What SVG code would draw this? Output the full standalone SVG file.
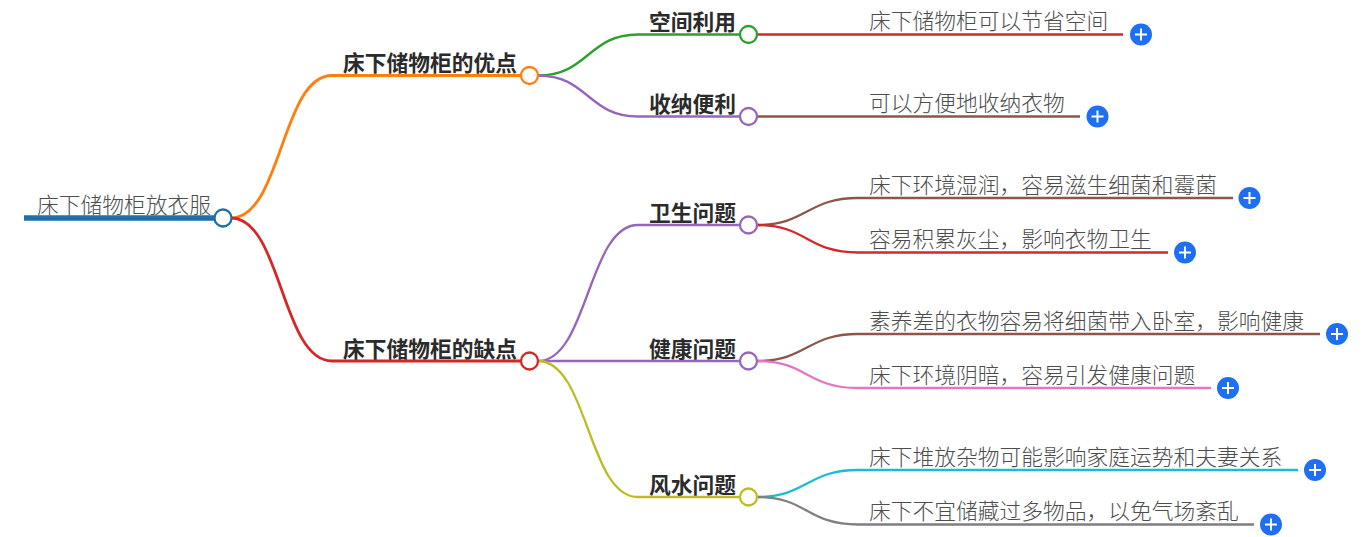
<svg xmlns="http://www.w3.org/2000/svg" width="1365" height="537" viewBox="0 0 1365 537">
<style>
text{font-family:"Noto Sans CJK SC","Noto Sans",sans-serif;font-size:21.75px}
.l{fill:#4d4d4d;font-weight:300}
.b{fill:#2b2b2b;font-weight:700}
#connectors path{fill:none;stroke-width:2.3}
#connectors path.m{stroke-width:2.8}
#connectors path.r{stroke-width:5.5}
.c{fill:#fff;stroke-width:2.3}
.p{fill:#1f6ff2}
.x{stroke:#fff;stroke-width:2;fill:none}
</style>
<rect width="1365" height="537" fill="#fff"/>
<g id="connectors">
<path class="r" d="M24 218H215" stroke="#1f6fa8"/>
<path class="m" d="M231 218C281.500 218 281.500 75.500 332 75.500H521" stroke="#ff7f0e"/>
<path class="m" d="M231 218C281.500 218 281.500 361 332 361H521" stroke="#d62728"/>
<path d="M538 75.500C588 75.500 588 34.500 638 34.500H740" stroke="#2ca02c"/>
<path d="M538 75.500C588 75.500 588 116.500 638 116.500H740" stroke="#9467bd"/>
<path d="M538 361C588 361 588 225 638 225H740" stroke="#9467bd"/>
<path d="M538 361H740" stroke="#9467bd"/>
<path d="M538 361C588 361 588 497 638 497H740" stroke="#bcbd22"/>
<path d="M757 34.500H1123" stroke="#d62728"/>
<path d="M757 116.500H1080" stroke="#8c564b"/>
<path d="M757 225C807 225 807 198 858 198H1233" stroke="#8c564b"/>
<path d="M757 225C807 225 807 252.500 858 252.500H1168" stroke="#d62728"/>
<path d="M757 361C807 361 807 334 858 334H1320" stroke="#8c564b"/>
<path d="M757 361C807 361 807 388 858 388H1211" stroke="#e377c2"/>
<path d="M757 497C807 497 807 470 858 470H1298" stroke="#17becf"/>
<path d="M757 497C807 497 807 524.500 858 524.500H1254" stroke="#7f7f7f"/>
</g>
<g id="root"><text class="l" x="37" y="213">床下储物柜放衣服</text><circle class="c" cx="223" cy="218" r="8.500" stroke="#1f6fa8"/></g>
<g id="n1"><text class="b" x="343" y="70.500">床下储物柜的优点</text><circle class="c" cx="529.500" cy="75.500" r="8.500" stroke="#ff7f0e"/></g>
<g id="n2"><text class="b" x="343" y="356.500">床下储物柜的缺点</text><circle class="c" cx="529.500" cy="361" r="8.500" stroke="#d62728"/></g>
<g id="n11"><text class="b" x="649" y="29.500">空间利用</text><circle class="c" cx="748.500" cy="34.500" r="8.500" stroke="#2ca02c"/></g>
<g id="n12"><text class="b" x="649" y="111.500">收纳便利</text><circle class="c" cx="748.500" cy="116.500" r="8.500" stroke="#9467bd"/></g>
<g id="n21"><text class="b" x="649" y="220.500">卫生问题</text><circle class="c" cx="748.500" cy="225" r="8.500" stroke="#9467bd"/></g>
<g id="n22"><text class="b" x="649" y="356.500">健康问题</text><circle class="c" cx="748.500" cy="361" r="8.500" stroke="#9467bd"/></g>
<g id="n23"><text class="b" x="649" y="492.500">风水问题</text><circle class="c" cx="748.500" cy="497" r="8.500" stroke="#bcbd22"/></g>
<g id="l1"><text class="l" x="869" y="29">床下储物柜可以节省空间</text><circle class="p" cx="1141" cy="34.500" r="11"/><path class="x" d="M1135 34.500H1147M1141 28.500V40.500"/></g>
<g id="l2"><text class="l" x="869" y="111">可以方便地收纳衣物</text><circle class="p" cx="1097.500" cy="116.500" r="11"/><path class="x" d="M1091.500 116.500H1103.500M1097.500 110.500V122.500"/></g>
<g id="l3"><text class="l" x="869" y="193">床下环境湿润，容易滋生细菌和霉菌</text><circle class="p" cx="1249.500" cy="198" r="11"/><path class="x" d="M1243.500 198H1255.500M1249.500 192V204"/></g>
<g id="l4"><text class="l" x="869" y="247">容易积累灰尘，影响衣物卫生</text><circle class="p" cx="1185" cy="252.500" r="11"/><path class="x" d="M1179 252.500H1191M1185 246.500V258.500"/></g>
<g id="l5"><text class="l" x="869" y="329">素养差的衣物容易将细菌带入卧室，影响健康</text><circle class="p" cx="1337" cy="334" r="11"/><path class="x" d="M1331 334H1343M1337 328V340"/></g>
<g id="l6"><text class="l" x="869" y="383">床下环境阴暗，容易引发健康问题</text><circle class="p" cx="1228" cy="388" r="11"/><path class="x" d="M1222 388H1234M1228 382V394"/></g>
<g id="l7"><text class="l" x="869" y="465">床下堆放杂物可能影响家庭运势和夫妻关系</text><circle class="p" cx="1315" cy="470" r="11"/><path class="x" d="M1309 470H1321M1315 464V476"/></g>
<g id="l8"><text class="l" x="869" y="519">床下不宜储藏过多物品，以免气场紊乱</text><circle class="p" cx="1271" cy="524.500" r="11"/><path class="x" d="M1265 524.500H1277M1271 518.500V530.500"/></g>
</svg>
